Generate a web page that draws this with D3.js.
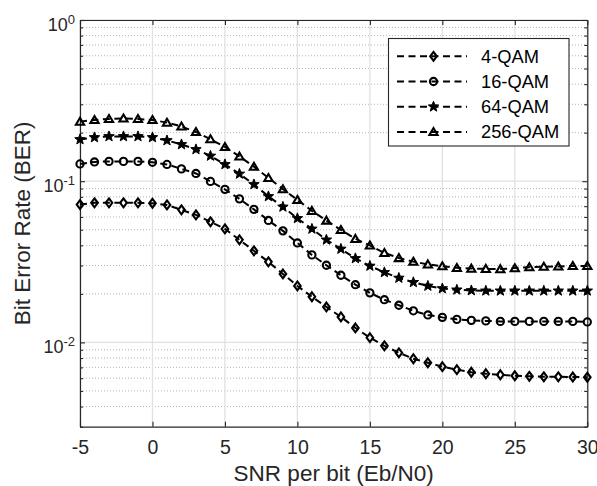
<!DOCTYPE html>
<html>
<head>
<meta charset="utf-8">
<script src="https://cdn.jsdelivr.net/npm/d3@7"></script>
<style>
  body { margin: 0; background: #fff; }
  svg { display: block; font-family: "Liberation Sans", Arial, Helvetica, sans-serif; }
</style>
</head>
<body>
<svg id="chart" width="597" height="486"></svg>
<script>
// SNR per bit (dB) sample points
const snr = [-5, -4, -3, -2, -1, 0, 1, 2, 3, 4, 5, 6, 7, 8, 9, 10, 11, 12,
             13, 14, 15, 16, 17, 18, 19, 20, 21, 22, 23, 24, 25, 26, 27, 28, 29, 30];

// Simulated bit error rate per modulation order
const ber4 = [0.0716, 0.0734, 0.0734, 0.0734, 0.0734, 0.0730, 0.0713, 0.0664, 0.0618, 0.0560,
              0.0506, 0.0433, 0.0370, 0.0316, 0.0266, 0.0224, 0.0192, 0.0166, 0.0144, 0.0123,
              0.0107, 0.00953, 0.00862, 0.00792, 0.00748, 0.00707, 0.00677, 0.00653, 0.00639, 0.00630,
              0.00621, 0.00616, 0.00612, 0.00612, 0.00610, 0.00608];
const ber16 = [0.1280, 0.1317, 0.1327, 0.1327, 0.1327, 0.1310, 0.1271, 0.1192, 0.1117, 0.0997,
               0.0890, 0.0777, 0.0669, 0.0571, 0.0492, 0.0414, 0.0349, 0.0301, 0.0261, 0.0228,
               0.0203, 0.0184, 0.0170, 0.0157, 0.0148, 0.0143, 0.0139, 0.0137, 0.0136, 0.0135,
               0.0135, 0.0135, 0.0135, 0.0135, 0.0135, 0.0134];
const ber64 = [0.1816, 0.1869, 0.1896, 0.1896, 0.1896, 0.1869, 0.1790, 0.1691, 0.1575, 0.1435,
               0.1271, 0.1110, 0.0955, 0.0805, 0.0693, 0.0588, 0.0506, 0.0433, 0.0380, 0.0332,
               0.0298, 0.0272, 0.0251, 0.0236, 0.0224, 0.0216, 0.0212, 0.0210, 0.0209, 0.0209,
               0.0209, 0.0209, 0.0209, 0.0209, 0.0209, 0.0209];
const ber256 = [0.2342, 0.2399, 0.2433, 0.2451, 0.2433, 0.2399, 0.2309, 0.2186, 0.2021, 0.1822,
                0.1632, 0.1425, 0.1231, 0.1048, 0.0893, 0.0766, 0.0655, 0.0570, 0.0499, 0.0439,
                0.0400, 0.0359, 0.0334, 0.0317, 0.0305, 0.0297, 0.0290, 0.0287, 0.0286, 0.0285,
                0.0289, 0.0293, 0.0295, 0.0296, 0.0298, 0.0298];

const seriesNames = ["4-QAM", "16-QAM", "64-QAM", "256-QAM"];
const markerKinds = ["diamond", "circle", "star", "triangle"];

// Axis ticks
const xTicks = [-5, 0, 5, 10, 15, 20, 25, 30];
const yTicks = [1, 0.1, 0.01];
const yTickExp = ["0", "-1", "-2"];
const xTitle = "SNR per bit (Eb/N0)";
const yTitle = "Bit Error Rate (BER)";

const series = [ber4, ber16, ber64, ber256].map((vals, i) => ({
  name: seriesNames[i],
  marker: markerKinds[i],
  points: snr.map((s, j) => ({ x: s, y: vals[j] }))
}));

const svg = d3.select("#chart");
const plotL = 80, plotR = 587.3, plotT = 20, plotB = 426.7;
const axisColor = "#262626";

const x = d3.scaleLinear().domain([-5, 30]).range([plotL, plotR]);
const y = d3.scaleLog().domain([0.003, 1]).range([plotB, plotT]);

const minorY = y.ticks().filter(v => !yTicks.some(t => Math.abs(t - v) < v * 1e-6));

// Grid: minor dotted lines, then major solid lines
const grid = svg.append("g");
grid.selectAll("line.minor").data(minorY.filter(v => v > 0.0031)).join("line")
  .attr("x1", plotL).attr("x2", plotR)
  .attr("y1", d => y(d)).attr("y2", d => y(d))
  .attr("stroke", "#b4b4b4").attr("stroke-width", 1).attr("stroke-dasharray", "1,2");
grid.selectAll("line.hmaj").data(yTicks).join("line")
  .attr("x1", plotL).attr("x2", plotR)
  .attr("y1", d => y(d)).attr("y2", d => y(d))
  .attr("stroke", "#e1e1e1").attr("stroke-width", 1.3);
grid.selectAll("line.vmaj").data(xTicks).join("line")
  .attr("x1", d => x(d)).attr("x2", d => x(d))
  .attr("y1", plotT).attr("y2", plotB)
  .attr("stroke", "#e1e1e1").attr("stroke-width", 1.3);

// Axes with inward ticks on all four sides
function styleAxis(g) {
  g.selectAll("path.domain").attr("stroke", axisColor).attr("stroke-width", 1.2);
  g.selectAll(".tick line").attr("stroke", axisColor).attr("stroke-width", 1.1);
}

const xAxis = svg.append("g").attr("transform", `translate(0,${plotB})`)
  .call(d3.axisBottom(x).tickValues(xTicks).tickSizeInner(-5).tickSizeOuter(0)
        .tickPadding(13.5).tickFormat(d => String(d)));
styleAxis(xAxis);
xAxis.selectAll(".tick text").attr("fill", axisColor).attr("font-size", 19.5)
  .attr("font-family", "Liberation Sans, Arial, sans-serif");

const xAxisTop = svg.append("g").attr("transform", `translate(0,${plotT})`)
  .call(d3.axisTop(x).tickValues(xTicks).tickSizeInner(-5).tickSizeOuter(0).tickFormat(""));
styleAxis(xAxisTop);

const yAxis = svg.append("g").attr("transform", `translate(${plotL},0)`)
  .call(d3.axisLeft(y).tickValues(yTicks).tickSizeInner(-5).tickSizeOuter(0).tickFormat(""));
styleAxis(yAxis);
const yMinor = svg.append("g").attr("transform", `translate(${plotL},0)`)
  .call(d3.axisLeft(y).tickValues(minorY).tickSizeInner(-3).tickSizeOuter(0).tickFormat(""));
styleAxis(yMinor);
yMinor.select("path.domain").remove();

const yAxisRight = svg.append("g").attr("transform", `translate(${plotR},0)`)
  .call(d3.axisRight(y).tickValues(yTicks).tickSizeInner(-5).tickSizeOuter(0).tickFormat(""));
styleAxis(yAxisRight);
const yMinorRight = svg.append("g").attr("transform", `translate(${plotR},0)`)
  .call(d3.axisRight(y).tickValues(minorY).tickSizeInner(-3).tickSizeOuter(0).tickFormat(""));
styleAxis(yMinorRight);
yMinorRight.select("path.domain").remove();

// Power-of-ten labels on the y axis
const yLab = svg.append("g").attr("fill", axisColor);
yTicks.forEach((t, i) => {
  const txt = yLab.append("text")
    .attr("x", 75).attr("y", y(t) + 11)
    .attr("text-anchor", "end").attr("font-size", 18);
  txt.append("tspan").text("10");
  txt.append("tspan").attr("dy", -7.5).attr("font-size", 13).text(yTickExp[i]);
});

// Axis titles
svg.append("text")
  .attr("x", (plotL + plotR) / 2).attr("y", 481)
  .attr("text-anchor", "middle").attr("font-size", 22.5).attr("fill", axisColor)
  .text(xTitle);
svg.append("text")
  .attr("transform", `translate(30,${(plotT + plotB) / 2}) rotate(-90)`)
  .attr("text-anchor", "middle").attr("font-size", 22.5).attr("fill", axisColor)
  .text(yTitle);

// Marker shapes
function starPath(R, r) {
  let p = "";
  for (let k = 0; k < 10; k++) {
    const rad = k % 2 === 0 ? R : r;
    const a = -Math.PI / 2 + k * Math.PI / 5;
    p += (k === 0 ? "M" : "L") + (rad * Math.cos(a)).toFixed(3) + "," + (rad * Math.sin(a)).toFixed(3);
  }
  return p + "Z";
}
const markerDefs = {
  diamond:  { d: "M0,-4.4L3.3,0L0,4.4L-3.3,0Z", fill: "none", sw: 2.1 },
  circle:   { d: "M3.6,0A3.6,3.6 0 1,1 -3.6,0A3.6,3.6 0 1,1 3.6,0Z", fill: "none", sw: 2.1 },
  star:     { d: starPath(5.5, 2.3), fill: "#000", sw: 1 },
  triangle: { d: "M0,-3.9L4.1,3.1L-4.1,3.1Z", fill: "none", sw: 2.1 }
};

function drawMarker(g, kind, cx, cy) {
  const m = markerDefs[kind];
  g.append("path")
    .attr("d", m.d)
    .attr("transform", `translate(${cx},${cy})`)
    .attr("fill", m.fill).attr("stroke", "#000")
    .attr("stroke-width", m.sw).attr("stroke-linejoin", "miter");
}

// Curves
const line = d3.line().x(d => x(d.x)).y(d => y(d.y));
const dash = "7,4.5";
const plot = svg.append("g");
series.forEach(s => {
  plot.append("path")
    .datum(s.points)
    .attr("d", line)
    .attr("fill", "none").attr("stroke", "#000")
    .attr("stroke-width", 2).attr("stroke-dasharray", dash);
  const mg = plot.append("g");
  s.points.forEach(p => drawMarker(mg, s.marker, x(p.x), y(p.y)));
});

// Legend
const lg = svg.append("g");
lg.append("rect")
  .attr("x", 388.5).attr("y", 38.5).attr("width", 180.5).attr("height", 107.5)
  .attr("fill", "#fff").attr("stroke", axisColor).attr("stroke-width", 1.1);
series.forEach((s, i) => {
  const cy = 56.3 + i * 25.2;
  lg.append("line")
    .attr("x1", 397).attr("x2", 467).attr("y1", cy).attr("y2", cy)
    .attr("stroke", "#000").attr("stroke-width", 2).attr("stroke-dasharray", dash);
  drawMarker(lg, s.marker, 433.5, cy);
  lg.append("text")
    .attr("x", 481).attr("y", cy + 6.5)
    .attr("font-size", 18.3).attr("fill", "#000")
    .text(s.name);
});
</script>
</body>
</html>
